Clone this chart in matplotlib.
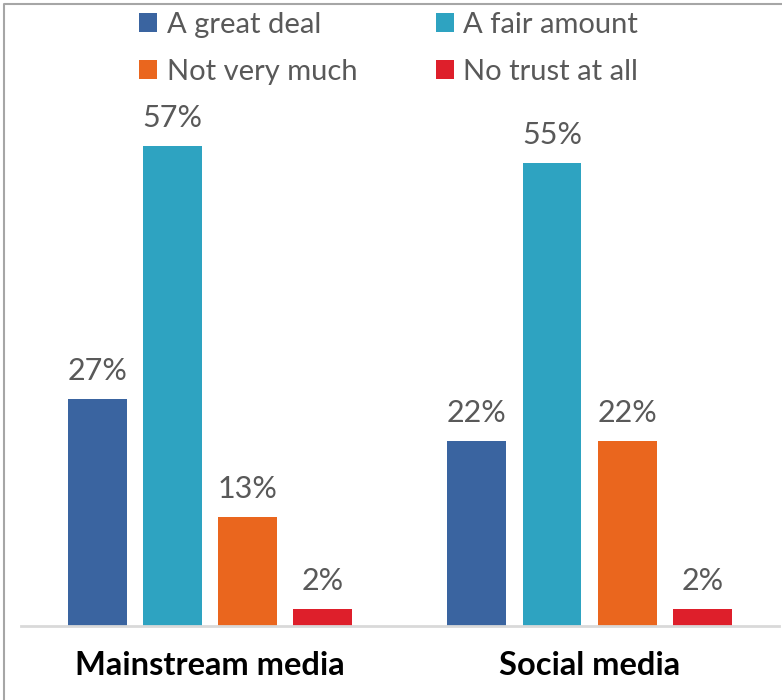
import numpy as np
import matplotlib.pyplot as plt
from matplotlib.patches import Patch
from matplotlib.lines import Line2D

#%% data
categories = ["Mainstream media", "Social media"]
series = ["A great deal", "A fair amount", "Not very much", "No trust at all"]
great_deal = [27, 22]
fair_amount = [57, 55]
not_much = [13, 22]
no_trust = [2, 2]
values = [great_deal, fair_amount, not_much, no_trust]

colors = ["#3A64A0", "#2EA3C1", "#EA661E", "#DE1F2B"]
grey_txt = "#595959"

plt.rcParams['font.family'] = ['Lato', 'DejaVu Sans']

#%% figure
fig = plt.figure(figsize=(7.82, 7.0), dpi=100)
ax = fig.add_axes([21/782, 74/700, 758/782, 505/700])

x = np.arange(len(categories))
step = 0.198
width = 0.155
for i, (name, vals) in enumerate(zip(series, values)):
    bars = ax.bar(x + (i - 1.5)*step, vals, width=width, color=colors[i], label=name)
    ax.bar_label(bars, labels=[f"{v}%" for v in vals], padding=10,
                 fontsize=22, color=grey_txt)

ax.set_xlim(-0.498, 1.499)
ax.set_ylim(0, 60)
ax.set_yticks([])
ax.set_xticks(x)
ax.set_xticklabels(categories, fontsize=23.5, fontweight='bold', color='black')
ax.tick_params(axis='x', length=0, pad=18)
for sp in ["top", "right", "left"]:
    ax.spines[sp].set_visible(False)
ax.spines["bottom"].set_color("#D9D9D9")
ax.spines["bottom"].set_linewidth(2)

#legend - row-wise order (matplotlib fills columns first)
handles = [Patch(facecolor=c, edgecolor='none') for c in colors]
order = [0, 2, 1, 3]
fig.legend([handles[k] for k in order], [series[k] for k in order],
           loc='upper center', bbox_to_anchor=(0.497, 1.0),
           ncol=2, frameon=False, fontsize=21, labelcolor=grey_txt,
           handlelength=0.62, handleheight=0.62, handletextpad=0.32,
           columnspacing=2.7, labelspacing=0.72, borderaxespad=0.0)

#chart border (only top and left visible)
fig.add_artist(Line2D([4/782, 4/782, 1.0], [0.0, 1 - 4/700, 1 - 4/700],
                      transform=fig.transFigure, color="#A6A6A6", lw=1.5))

fig.savefig("out.png", dpi=100)
